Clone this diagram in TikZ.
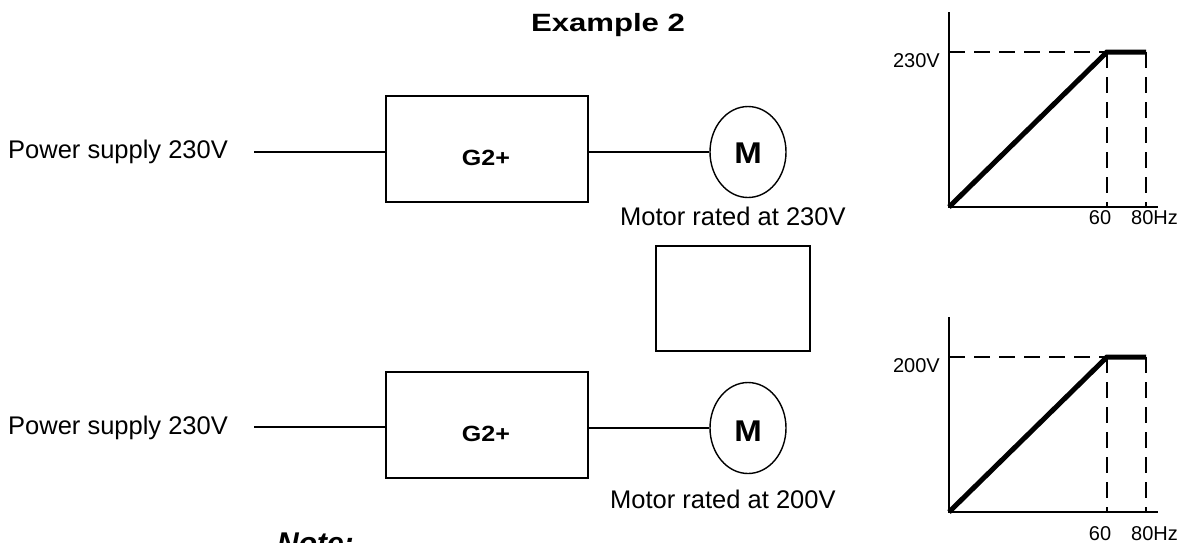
\documentclass[tikz,border=0pt]{standalone}
\usepackage{fontspec}
\setmainfont{Liberation Sans}
\usetikzlibrary{shapes.geometric}
\begin{document}
\begin{tikzpicture}[x=1pt,y=-1pt,
  drivebox/.style={draw,line width=1.7pt,minimum width=202pt,minimum height=106pt,inner sep=0pt},
  emptybox/.style={draw,line width=1.7pt,minimum width=154pt,minimum height=105pt,inner sep=0pt},
  motor/.style={draw,ellipse,line width=1.4pt,minimum width=76pt,minimum height=91pt,inner sep=0pt},
  wire/.style={line width=1.4pt},
  normtxt/.style={font=\fontsize{25.5}{30}\selectfont,inner sep=0pt},
  gtxt/.style={font=\fontsize{20}{24}\selectfont,inner sep=0pt},
  boldtxt/.style={inner sep=0pt,font=\fontsize{22}{26}\selectfont\bfseries},
  mtxt/.style={inner sep=0pt,font=\fontsize{30}{34}\selectfont\bfseries},
  axis/.style={line width=1.5pt},
  guide/.style={line width=1.4pt,dash pattern=on 16pt off 9pt},
  curve/.style={line width=5pt}]
\clip (0,0) rectangle (1185,542);
\fill[white] (0,0) rectangle (1185,542);

% title
\node[anchor=base,inner sep=0pt,font=\fontsize{25}{29}\selectfont\bfseries] (title) at (608,31) {\scalebox{1.245}[1]{Example 2}};

% ---- top row ----
\node[normtxt,anchor=base west] (ps1) at (8,158) {Power supply 230V};
\coordinate (w1) at (254,152);
\node[drivebox] (g1) at (487,149) {};
\node[boldtxt,anchor=base] (g1t) at (486,165) {\scalebox{1.14}[1]{G2+}};
\node[motor] (m1) at (748,152) {};
\node[mtxt,anchor=base] (m1t) at (748,163) {\scalebox{1.1}[1]{M}};
\node[normtxt,anchor=base west] (r1) at (620,225) {Motor rated at 230V};
\draw[wire] (w1) -- (g1.west |- w1);
\draw[wire] (g1.east |- m1.west) -- (m1.west);

% middle box
\node[emptybox] (mid) at (733,298.5) {};

% ---- bottom row ----
\node[normtxt,anchor=base west] (ps2) at (8,434) {Power supply 230V};
\coordinate (w2) at (254,427);
\node[drivebox] (g2) at (487,425) {};
\node[boldtxt,anchor=base] (g2t) at (486,441) {\scalebox{1.14}[1]{G2+}};
\node[motor] (m2) at (748,428) {};
\node[mtxt,anchor=base] (m2t) at (748,441) {\scalebox{1.1}[1]{M}};
\node[normtxt,anchor=base west] (r2) at (610,508) {Motor rated at 200V};
\draw[wire] (w2) -- (g2.west |- w2);
\draw[wire] (g2.east |- m2.west) -- (m2.west);

% note
\node[anchor=base west,inner sep=0pt,font=\fontsize{30}{34}\selectfont\bfseries\itshape] (note) at (277,553) {Note:};

% ---- graph 1 ----
\coordinate (o1) at (949,207);
\coordinate (yt1) at (949,12);
\coordinate (xe1) at (1158,207);
\coordinate (k1) at (1107,52);
\coordinate (e1) at (1146,52);
\coordinate (yl1) at (949,52);
\draw[axis] (yt1) -- (o1) -- (xe1);
\draw[guide] (yl1) -- (k1);
\draw[guide] (k1) -- (k1 |- o1);
\draw[guide] (e1) -- (e1 |- o1);
\draw[curve] (o1) -- (k1) -- (e1);
\node[gtxt,anchor=base east] (v1) at (940,67) {230V};
\node[gtxt,anchor=base] (f60a) at (1100,224) {60};
\node[gtxt,anchor=base west] (f80a) at (1131,224) {80Hz};

% ---- graph 2 ----
\coordinate (o2) at (949,512);
\coordinate (yt2) at (949,317);
\coordinate (xe2) at (1158,512);
\coordinate (k2) at (1107,357);
\coordinate (e2) at (1146,357);
\coordinate (yl2) at (949,357);
\draw[axis] (yt2) -- (o2) -- (xe2);
\draw[guide] (yl2) -- (k2);
\draw[guide] (k2) -- (k2 |- o2);
\draw[guide] (e2) -- (e2 |- o2);
\draw[curve] (o2) -- (k2) -- (e2);
\node[gtxt,anchor=base east] (v2) at (940,372) {200V};
\node[gtxt,anchor=base] (f60b) at (1100,540) {60};
\node[gtxt,anchor=base west] (f80b) at (1131,540) {80Hz};
\end{tikzpicture}
\end{document}
